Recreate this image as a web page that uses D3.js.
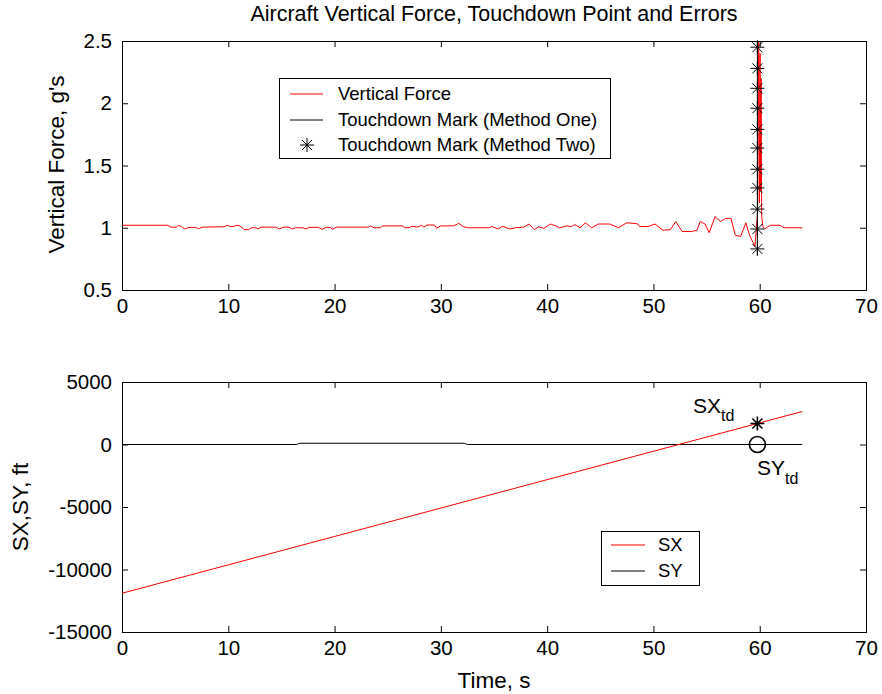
<!DOCTYPE html>
<html>
<head>
<meta charset="utf-8">
<script src="https://cdn.jsdelivr.net/npm/d3@7"></script>
<style>
  html, body { margin: 0; padding: 0; background: #fff; }
  svg { display: block; font-family: "Liberation Sans", Arial, Helvetica, sans-serif; }
  .axis path.domain { display: none; }
  .axis line { stroke: #000; stroke-width: 1; }
  .axis text { fill: #000; font-size: 20.5px; }
</style>
</head>
<body>
<svg id="chart" width="882" height="694"></svg>
<script>
// ---- data ----------------------------------------------------------------
// Vertical load factor record (time in s, force in g)
const forceTime = [
  0, 4.3, 4.6, 5.1, 5.3, 5.6, 5.9, 6.3, 6.9, 7.2, 7.6, 9.6, 9.9, 10.2, 10.5, 10.8,
  11.1, 11.5, 11.9, 12.2, 12.6, 12.8, 13.1, 14.5, 14.8, 15.2, 15.7, 16.0, 16.3, 17.0,
  17.3, 17.6, 18.5, 18.8, 19.2, 19.6, 19.8, 20.2, 23.2, 23.4, 23.7, 24.3, 24.5, 26.4,
  26.6, 27.0, 27.3, 27.8, 28.2, 28.4, 28.7, 29.4, 29.6, 30.0, 31.2, 31.7, 32.1, 32.5,
  34.5, 34.8, 35.4, 35.8, 36.5, 37.0, 37.8, 38.3, 38.8, 39.2, 39.7, 40.3, 40.8, 41.2,
  41.8, 42.3, 42.6, 43.1, 43.6, 44.2, 44.8, 45.9, 46.7, 47.5, 48.5, 48.7, 49.5, 50.15,
  50.9, 51.6, 52.1, 52.7, 53.6, 54.1, 54.4, 54.85, 55.25, 55.8, 56.3, 56.8, 57.3, 57.7,
  58.2, 58.7, 58.9, 59.1, 59.55, 59.8, 59.9, 59.97, 60.03, 60.08, 60.13, 60.18, 60.3,
  60.45, 61.0, 61.9, 62.3, 64.0
];
const forceG = [
  1.02, 1.02, 1.005, 1.005, 1.018, 1.01, 0.99, 1.003, 1.003, 0.993, 1.005, 1.008, 1.02, 1.01, 1.01, 1.02,
  1.015, 0.985, 0.985, 1.0, 1.0, 0.99, 1.005, 1.005, 0.99, 1.005, 1.005, 0.99, 1.0, 1.0,
  0.99, 1.003, 1.003, 0.987, 1.003, 1.003, 0.987, 1.005, 1.005, 1.015, 1.0, 1.0, 1.015, 1.015,
  1.0, 1.0, 1.012, 1.005, 1.02, 1.005, 1.022, 1.022, 0.997, 1.015, 1.015, 1.035, 1.01, 1.0,
  1.0, 1.01, 0.99, 1.012, 0.99, 1.0, 1.005, 1.03, 0.985, 1.008, 0.995, 1.03, 1.015, 0.998,
  1.015, 1.01, 1.025, 1.0, 1.04, 1.0, 1.03, 1.03, 1.0, 1.04, 1.032, 1.01, 1.01, 1.03,
  0.98, 0.985, 1.05, 0.97, 0.97, 0.98, 1.05, 1.03, 0.96, 1.09, 1.05, 1.075, 1.075, 0.94,
  0.93, 1.04, 0.98, 0.93, 0.85, 1.12, 2.49, 1.2, 2.4, 1.3, 2.2, 1.1, 1.01,
  0.99, 1.02, 1.02, 1.0, 1.0
];

// Touchdown time and the method-two marks along it
const touchdownTime = 59.78;
const methodOneRange = [0.78, 2.5];
const methodTwoG = [0.83, 0.99, 1.15, 1.32, 1.47, 1.64, 1.79, 1.96, 2.12, 2.28, 2.45];

// Position errors (ft)
const sxTime = [0, 64];
const sxFeet = [-11900, 2640];
const syTime = [0, 16.4, 16.7, 32.2, 32.5, 64];
const syFeet = [0, 0, 100, 100, 0, 0];
const sxTouchdown = 1680;
const syTouchdown = 0;

// Axis ticks
const timeTicks = [0, 10, 20, 30, 40, 50, 60, 70];
const forceTicks = [0.5, 1, 1.5, 2, 2.5];
const distTicks = [-15000, -10000, -5000, 0, 5000];

// ---- layout --------------------------------------------------------------
const svg = d3.select("#chart");
const left = 122, right = 866;
const top1 = 41, bot1 = 290;
const top2 = 382, bot2 = 632;
const tick = 6;
const labelFont = "22.5px";
const titleFont = "21.5px";
const legendFont = "18.5px";

const x = d3.scaleLinear().domain([0, 70]).range([left, right]);
const yF = d3.scaleLinear().domain([0.5, 2.5]).range([bot1, top1]);
const yS = d3.scaleLinear().domain([-15000, 5000]).range([bot2, top2]);

// Plain number text with an ASCII hyphen for negatives
const plain = d => String(d);

// Asterisk marker (plus overlaid with a cross)
const asterisk = {
  draw(ctx, size) {
    const r = Math.sqrt(size) / 2;
    const d = r * 0.72;
    ctx.moveTo(-r, 0); ctx.lineTo(r, 0);
    ctx.moveTo(0, -r); ctx.lineTo(0, r);
    ctx.moveTo(-d, -d); ctx.lineTo(d, d);
    ctx.moveTo(-d, d); ctx.lineTo(d, -d);
  }
};
const starPath = d3.symbol().type(asterisk).size(14 * 14)();

function drawFrame(yScale, yTicks, top, bot) {
  const g = svg.append("g");
  g.append("g").attr("class", "axis")
    .attr("transform", `translate(0,${bot})`)
    .call(d3.axisBottom(x).tickValues(timeTicks).tickSize(-tick).tickPadding(8).tickFormat(plain));
  g.append("g").attr("class", "axis")
    .attr("transform", `translate(0,${top})`)
    .call(d3.axisTop(x).tickValues(timeTicks).tickSize(-tick).tickFormat(""));
  g.append("g").attr("class", "axis")
    .attr("transform", `translate(${left},0)`)
    .call(d3.axisLeft(yScale).tickValues(yTicks).tickSize(-tick).tickPadding(10).tickFormat(plain));
  g.append("g").attr("class", "axis")
    .attr("transform", `translate(${right},0)`)
    .call(d3.axisRight(yScale).tickValues(yTicks).tickSize(-tick).tickFormat(""));
  g.append("rect")
    .attr("x", left + 0.5).attr("y", top + 0.5)
    .attr("width", right - left).attr("height", bot - top)
    .attr("fill", "none").attr("stroke", "#000").attr("stroke-width", 1);
}

function clip(id, top, bot) {
  svg.append("clipPath").attr("id", id).append("rect")
    .attr("x", left).attr("y", top - 2).attr("width", right - left).attr("height", bot - top + 4);
}

// ---- title ---------------------------------------------------------------
svg.append("text")
  .attr("x", (left + right) / 2).attr("y", 21)
  .attr("text-anchor", "middle").attr("font-size", titleFont)
  .text("Aircraft Vertical Force, Touchdown Point and Errors");

// ---- upper panel: vertical force ---------------------------------------
drawFrame(yF, forceTicks, top1, bot1);
clip("clipTop", top1, bot1);

const upper = svg.append("g").attr("clip-path", "url(#clipTop)");
const forcePts = forceTime.map((t, i) => [t, forceG[i]]);
upper.append("path")
  .datum(forcePts)
  .attr("fill", "none").attr("stroke", "#ff0000").attr("stroke-width", 1)
  .attr("d", d3.line().x(d => x(d[0])).y(d => yF(d[1])));

upper.append("line")
  .attr("x1", x(touchdownTime)).attr("x2", x(touchdownTime))
  .attr("y1", yF(methodOneRange[0])).attr("y2", yF(methodOneRange[1]))
  .attr("stroke", "#000").attr("stroke-width", 1);

upper.selectAll("path.mark")
  .data(methodTwoG)
  .join("path").attr("class", "mark")
  .attr("transform", d => `translate(${x(touchdownTime)},${yF(d)})`)
  .attr("d", starPath)
  .attr("fill", "none").attr("stroke", "#000").attr("stroke-width", 1);

svg.append("text")
  .attr("transform", `translate(64,${(top1 + bot1) / 2 - 1}) rotate(-90)`)
  .attr("text-anchor", "middle").attr("font-size", labelFont)
  .text("Vertical Force, g's");

// upper legend
const leg1 = svg.append("g");
leg1.append("rect")
  .attr("x", 279.5).attr("y", 78.5).attr("width", 331).attr("height", 80)
  .attr("fill", "#fff").attr("stroke", "#000").attr("stroke-width", 1);
const leg1Rows = [
  { label: "Vertical Force", kind: "line", color: "#ff0000" },
  { label: "Touchdown Mark (Method One)", kind: "line", color: "#000" },
  { label: "Touchdown Mark (Method Two)", kind: "star", color: "#000" }
];
const leg1Y = [94, 120, 145];
leg1Rows.forEach((r, i) => {
  if (r.kind === "line") {
    leg1.append("line").attr("x1", 290).attr("x2", 323)
      .attr("y1", leg1Y[i]).attr("y2", leg1Y[i])
      .attr("stroke", r.color).attr("stroke-width", 1);
  } else {
    leg1.append("path").attr("transform", `translate(307,${leg1Y[i]})`)
      .attr("d", starPath).attr("fill", "none").attr("stroke", r.color);
  }
  leg1.append("text").attr("x", 338).attr("y", leg1Y[i])
    .attr("dy", "0.35em").attr("font-size", legendFont).text(r.label);
});

// ---- lower panel: position errors --------------------------------------
drawFrame(yS, distTicks, top2, bot2);
clip("clipBot", top2, bot2);

const lower = svg.append("g").attr("clip-path", "url(#clipBot)");
const lineS = d3.line().x(d => x(d[0])).y(d => yS(d[1]));
lower.append("path")
  .datum(syTime.map((t, i) => [t, syFeet[i]]))
  .attr("fill", "none").attr("stroke", "#000").attr("stroke-width", 1)
  .attr("d", lineS);
lower.append("path")
  .datum(sxTime.map((t, i) => [t, sxFeet[i]]))
  .attr("fill", "none").attr("stroke", "#ff0000").attr("stroke-width", 1)
  .attr("d", lineS);

lower.append("path")
  .attr("transform", `translate(${x(touchdownTime)},${yS(sxTouchdown)})`)
  .attr("d", starPath).attr("fill", "none").attr("stroke", "#000").attr("stroke-width", 1.6);
lower.append("circle")
  .attr("cx", x(touchdownTime)).attr("cy", yS(syTouchdown)).attr("r", 8)
  .attr("fill", "none").attr("stroke", "#000").attr("stroke-width", 1.6);

// touchdown annotations
const sxLab = svg.append("text").attr("x", 693).attr("y", 413).attr("font-size", "21px");
sxLab.append("tspan").text("SX");
sxLab.append("tspan").attr("dy", 8).attr("font-size", "16px").text("td");
const syLab = svg.append("text").attr("x", 757).attr("y", 475).attr("font-size", "21px");
syLab.append("tspan").text("SY");
syLab.append("tspan").attr("dy", 9).attr("font-size", "16px").text("td");

svg.append("text")
  .attr("transform", `translate(28,${(top2 + bot2) / 2}) rotate(-90)`)
  .attr("text-anchor", "middle").attr("font-size", labelFont)
  .text("SX,SY, ft");

svg.append("text")
  .attr("x", (left + right) / 2).attr("y", 688)
  .attr("text-anchor", "middle").attr("font-size", labelFont)
  .text("Time, s");

// lower legend
const leg2 = svg.append("g");
leg2.append("rect")
  .attr("x", 601.5).attr("y", 531.5).attr("width", 98).attr("height", 54)
  .attr("fill", "#fff").attr("stroke", "#000").attr("stroke-width", 1);
const leg2Rows = [
  { label: "SX", color: "#ff0000" },
  { label: "SY", color: "#000" }
];
const leg2Y = [545, 571];
leg2Rows.forEach((r, i) => {
  leg2.append("line").attr("x1", 611).attr("x2", 645)
    .attr("y1", leg2Y[i]).attr("y2", leg2Y[i])
    .attr("stroke", r.color).attr("stroke-width", 1);
  leg2.append("text").attr("x", 658).attr("y", leg2Y[i])
    .attr("dy", "0.35em").attr("font-size", legendFont).text(r.label);
});
</script>
</body>
</html>
